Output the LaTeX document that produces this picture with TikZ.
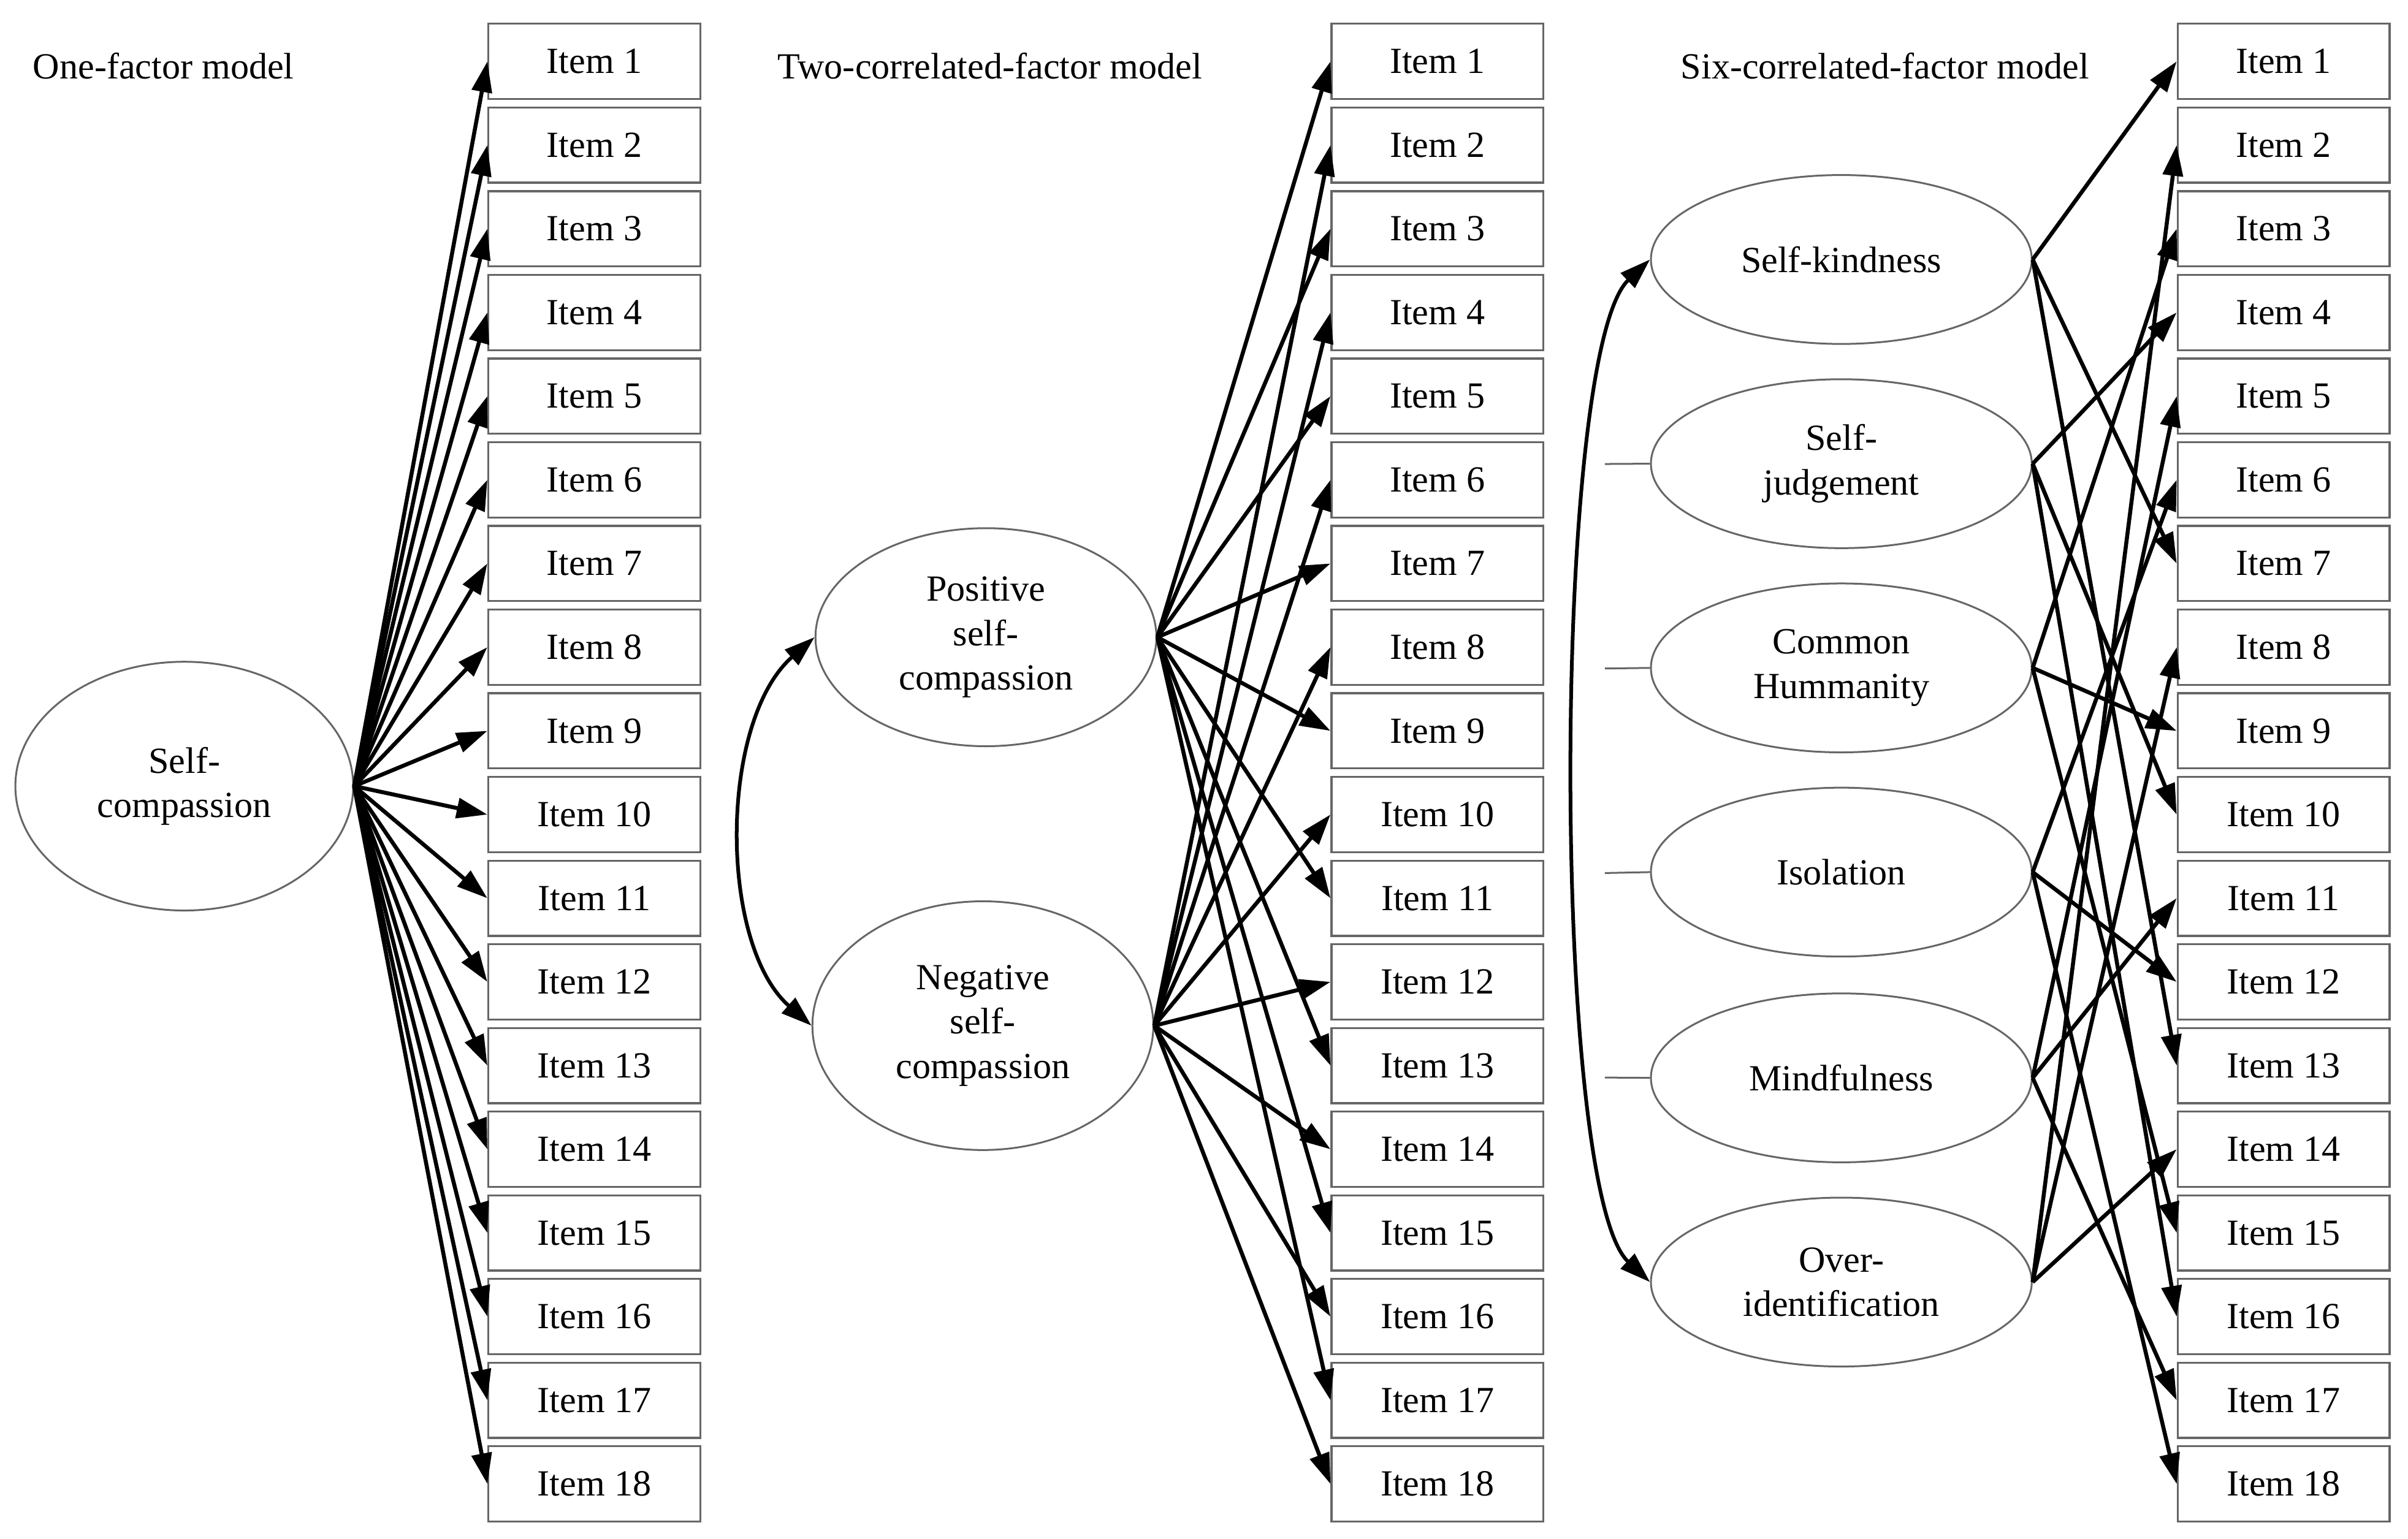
\documentclass[tikz,border=0pt]{standalone}
\usepackage{fontspec}
\setmainfont{Liberation Serif}
\usetikzlibrary{arrows.meta,shapes.geometric}
\begin{document}
\begin{tikzpicture}[x=1pt,y=-1pt,
  item/.style={draw=black!60,line width=1.3pt,minimum width=138pt,minimum height=49pt,inner sep=0pt,font=\fontsize{24}{28}\selectfont},
  fac/.style={draw=black!60,line width=1.2pt,ellipse,inner sep=0pt,align=center,font=\fontsize{24}{29}\selectfont},
  lk/.style={line width=2.6pt,-{Triangle[length=20pt,width=13pt]}},
  cor/.style={line width=2.4pt,{Triangle[length=20pt,width=13pt]}-{Triangle[length=20pt,width=13pt]}},
  ttl/.style={anchor=west,font=\fontsize{24}{28}\selectfont}]
\useasboundingbox (0,0) rectangle (1568,1002);
\node[ttl] (t1) at (18,43) {One-factor model};
\node[ttl] (t2) at (503,43) {Two-correlated-factor model};
\node[ttl] (t3) at (1091,43) {Six-correlated-factor model};
\foreach \i in {1,...,18}{
  \pgfmathsetmacro{\yy}{40+(\i-1)*54.5}
  \node[item] (a\i) at (387,\yy) {Item \i};
  \node[item] (b\i) at (936,\yy) {Item \i};
  \node[item] (c\i) at (1487,\yy) {Item \i};
}
% model 1
\node[fac,minimum width=220pt,minimum height=162pt] (sc) at (120,512) {Self-\\compassion};
\foreach \i in {1,...,18}{\draw[lk] (sc.east) -- (a\i.west);}
% model 2
\node[fac,minimum width=222pt,minimum height=142pt] (pos) at (642,415) {Positive\\self-\\compassion};
\node[fac,minimum width=222pt,minimum height=162pt] (neg) at (640,668) {Negative\\self-\\compassion};
\foreach \i in {1,3,...,17}{\draw[lk] (pos.east) -- (b\i.west);}
\foreach \i in {2,4,...,18}{\draw[lk] (neg.east) -- (b\i.west);}
\draw[cor] (pos.west) .. controls (468,470) and (468,615) .. (neg.west);
% model 3
\node[fac,minimum width=248pt,minimum height=110pt] (f1) at (1199,169) {Self-kindness};
\node[fac,minimum width=248pt,minimum height=110pt] (f2) at (1199,302) {Self-\\judgement};
\node[fac,minimum width=248pt,minimum height=110pt] (f3) at (1199,435) {Common\\Hummanity};
\node[fac,minimum width=248pt,minimum height=110pt] (f4) at (1199,568) {Isolation};
\node[fac,minimum width=248pt,minimum height=110pt] (f5) at (1199,702) {Mindfulness};
\node[fac,minimum width=248pt,minimum height=110pt] (f6) at (1199,835) {Over-\\identification};
\draw[cor] (f1.west) .. controls (1010,230) and (1010,775) .. (f6.west);
\foreach \f in {2,3,4,5}{
  \coordinate (h\f) at (1045,{169+(\f-1)*133.2});
  \draw[black!60,line width=1.2pt] (h\f) -- (f\f.west);
}
\foreach \f/\a/\b/\c in {1/1/7/13,6/2/8/14,3/3/9/15,2/4/10/16,5/5/11/17,4/6/12/18}{
  \draw[lk] (f\f.east) -- (c\a.west);
  \draw[lk] (f\f.east) -- (c\b.west);
  \draw[lk] (f\f.east) -- (c\c.west);
}
\end{tikzpicture}
\end{document}
